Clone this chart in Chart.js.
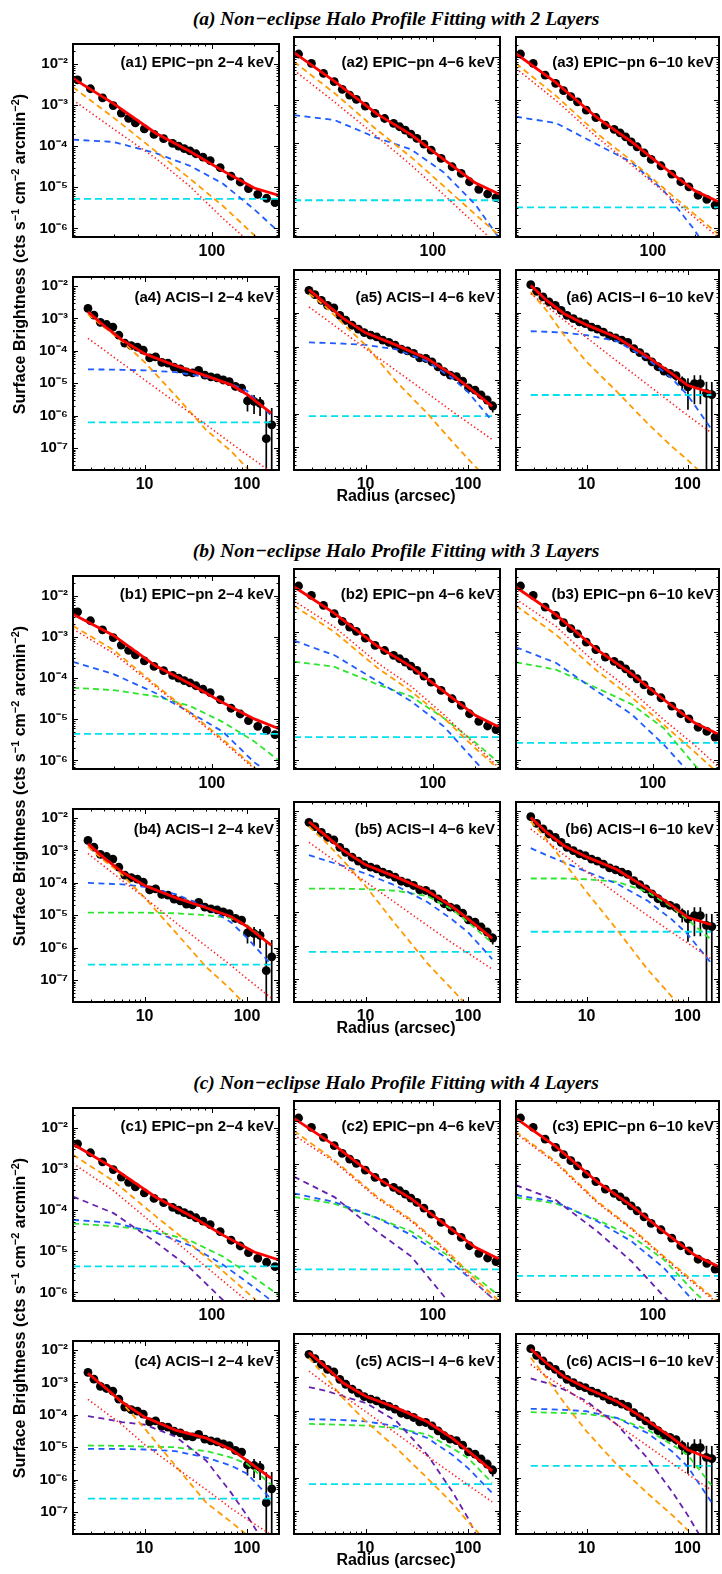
<!DOCTYPE html>
<html>
<head>
<meta charset="utf-8">
<title>Non-eclipse Halo Profile Fitting</title>
<script src="https://cdn.jsdelivr.net/npm/chart.js@4.4.1/dist/chart.umd.min.js"></script>
<style>
  html, body { margin: 0; padding: 0; background: #fff; }
  body { position: relative; width: 722px; height: 1574px; overflow: hidden; font-family: "Liberation Sans", Arial, sans-serif; color: #000; }
  canvas { position: absolute; }
  .sect { position: absolute; left: 46px; width: 700px; text-align: center; font: italic bold 19.5px "Liberation Serif", "Times New Roman", serif; line-height: 20px; }
  .xlab { position: absolute; left: 296px; width: 200px; text-align: center; font-weight: bold; font-size: 16px; line-height: 20px; }
  .ylab { position: absolute; left: -200px; width: 440px; height: 22px; line-height: 22px; text-align: center; font-weight: bold; font-size: 16px; transform: rotate(-90deg); white-space: nowrap; }
  .ylab sup { font-size: 11px; line-height: 0; vertical-align: 6px; }
  .plab { position: absolute; text-align: right; font-weight: bold; font-size: 15px; line-height: 14px; white-space: nowrap; }
</style>
</head>
<body>
<script>
// Radii of the profile bins (arcsec)
const EPIC_R = [11.1, 13.7, 16.7, 19.9, 22.7, 25.6, 28.6, 33.1, 38.8, 45.4, 52.6, 58, 63.6, 69.8, 77, 86.4, 97.3, 114.5, 137, 159, 182, 212, 245, 281];
const ACIS_R = [2.8, 3.2, 3.7, 4.25, 4.9, 5.6, 6.4, 7.4, 8.5, 9.7, 11.2, 12.8, 14.7, 16.9, 19.4, 22.3, 25.6, 29.4, 33.7, 38.7, 44.4, 51, 58.5, 67, 77, 88.5, 101, 117, 134, 154, 174];

// Measured surface brightness (cts s^-1 cm^-2 arcmin^-2)
const pn_2_4 = [4.06e-3, 2.46e-3, 1.48e-3, 9.6e-4, 6.3e-4, 4.7e-4, 3.65e-4, 2.6e-4, 1.91e-4, 1.51e-4, 1.16e-4, 1.0e-4, 8.7e-5, 7.6e-5, 6.5e-5, 5.4e-5, 4.45e-5, 3.0e-5, 1.85e-5, 1.34e-5, 9.3e-6, 6.75e-6, 5.4e-6, 4.25e-6];
const pn_4_6 = [1.2e-2, 7.2e-3, 4.2e-3, 2.69e-3, 1.78e-3, 1.31e-3, 1.04e-3, 7.2e-4, 4.9e-4, 3.7e-4, 2.84e-4, 2.37e-4, 1.98e-4, 1.6e-4, 1.26e-4, 9.3e-5, 6.7e-5, 4.3e-5, 2.74e-5, 1.91e-5, 1.22e-5, 8.1e-6, 6.3e-6, 5.2e-6];
const pn_6_10 = [1.2e-2, 7.2e-3, 3.85e-3, 2.46e-3, 1.66e-3, 1.2e-3, 9.1e-4, 5.8e-4, 3.9e-4, 2.6e-4, 2.05e-4, 1.71e-4, 1.38e-4, 1.05e-4, 8.05e-5, 5.8e-5, 4.07e-5, 2.89e-5, 1.84e-5, 1.22e-5, 9.3e-6, 5.9e-6, 4.7e-6, 3.46e-6];
const acis_2_4 = [2.03e-3, 1.26e-3, 7.6e-4, 6.5e-4, 5.4e-4, 3.05e-4, 1.73e-4, 1.44e-4, 1.31e-4, 1.05e-4, 6.05e-5, 6.5e-5, 4.4e-5, 4.2e-5, 3.13e-5, 2.79e-5, 2.22e-5, 2.1e-5, 2.49e-5, 1.77e-5, 1.58e-5, 1.47e-5, 1.26e-5, 1.12e-5, 8.0e-6, 7.1e-6, 2.85e-6, 2.73e-6, 2.38e-6, 1.94e-7, 5.2e-7];
const acis_4_6 = [4.7e-3, 3.5e-3, 2.38e-3, 1.69e-3, 1.41e-3, 8.5e-4, 6.05e-4, 4.3e-4, 3.3e-4, 2.6e-4, 2.17e-4, 1.94e-4, 1.54e-4, 1.32e-4, 1.1e-4, 8.3e-5, 7.4e-5, 6.2e-5, 4.6e-5, 4.4e-5, 3.5e-5, 2.49e-5, 1.77e-5, 1.41e-5, 1.26e-5, 9.3e-6, 5.9e-6, 5.0e-6, 3.6e-6, 2.55e-6, 1.69e-6];
const acis_6_10 = [6.95e-3, 4.4e-3, 3.0e-3, 2.12e-3, 1.69e-3, 1.2e-3, 8.5e-4, 6.8e-4, 5.4e-4, 4.8e-4, 3.8e-4, 3.3e-4, 2.7e-4, 2.07e-4, 1.81e-4, 1.54e-4, 1.32e-4, 8.7e-5, 6.6e-5, 4.9e-5, 3.5e-5, 2.5e-5, 1.85e-5, 1.58e-5, 1.35e-5, 8.9e-6, 6.3e-6, 7.9e-6, 7.9e-6, 4.0e-6, 3.7e-6];

// 1-sigma errors (only the outer ACIS-I bins are larger than the symbol)
const acis_2_4_err = [0, 0, 0, 0, 0, 0, 0, 0, 0, 0, 0, 0, 0, 0, 0, 0, 0, 0, 0, 0, 0, 0, 1.5e-6, 1.5e-6, 2e-6, 2e-6, 1.5e-6, 1.6e-6, 1.4e-6, 1.5e-6, 1.2e-6];
const acis_4_6_err = [0, 0, 0, 0, 0, 0, 0, 0, 0, 0, 0, 0, 0, 0, 0, 0, 0, 0, 0, 0, 0, 0, 0, 0, 0, 0, 0, 0, 5e-7, 6e-7, 6e-7];
const acis_6_10_err = [0, 0, 0, 0, 0, 0, 0, 0, 0, 0, 0, 0, 0, 0, 0, 0, 0, 0, 0, 0, 0, 0, 0, 3e-6, 4e-6, 4e-6, 5e-6, 6e-6, 6e-6, 5e-6, 5e-6];

// Radii where the model curves are sampled
const EPIC_K = [10.3, 20, 40, 70, 120, 200, 300];
const ACIS_K = [2.8, 4, 6, 10, 20, 40, 70, 100, 172];

// (a) 2 layers: total, PSF (dotted), layer components, background
const a1_tot = [4.38e-3, 1.07e-3, 2.05e-4, 7.4e-5, 2.5e-5, 9.6e-6, 6.3e-6];
const a1_dot = [1.31e-3, 2.6e-4, 5.0e-5, 1.04e-5, 1.74e-6, 3.7e-7, 1.0e-7];
const a1_org = [2.69e-3, 4.9e-4, 7.4e-5, 1.6e-5, 3.5e-6, 6.9e-7, 2.1e-7];
const a1_blu = [1.43e-4, 1.26e-4, 6.7e-5, 3.3e-5, 1.22e-5, 2.9e-6, 8.2e-7];
const a1_cyn = 5.2e-6;
const a2_tot = [1.29e-2, 2.75e-3, 4.75e-4, 1.55e-4, 4.05e-5, 1.15e-5, 6.1e-6];
const a2_dot = [5.0e-3, 9.0e-4, 1.4e-4, 3.0e-5, 6.0e-6, 1.25e-6, 3.5e-7];
const a2_org = [7.9e-3, 1.45e-3, 2.0e-4, 4.6e-5, 9.5e-6, 2.1e-6, 6.5e-7];
const a2_blu = [4.45e-4, 3.4e-4, 1.3e-4, 7.0e-5, 2.0e-5, 3.6e-6, 5.5e-7];
const a2_cyn = 4.5e-6;
const a3_tot = [1.22e-2, 2.55e-3, 3.75e-4, 1.06e-4, 2.65e-5, 7.6e-6, 4.1e-6];
const a3_dot = [5.5e-3, 9.8e-4, 1.3e-4, 3.05e-5, 7.1e-6, 1.78e-6, 5.9e-7];
const a3_org = [7.2e-3, 1.26e-3, 1.6e-4, 3.8e-5, 8.6e-6, 2.1e-6, 7.0e-7];
const a3_blu = [4.07e-4, 2.9e-4, 9e-5, 3.5e-5, 7.5e-6, 9e-7, 1.2e-7];
const a3_cyn = 3.05e-6;
const a4_tot = [1.6e-3, 6.05e-4, 2.17e-4, 8.1e-5, 3.5e-5, 1.69e-5, 8.9e-6, 4.5e-6, 1.2e-6];
const a4_dot = [2.43e-4, 1.07e-4, 4.2e-5, 1.27e-5, 2.6e-6, 5.2e-7, 1.4e-7, 6.2e-8, 1.8e-8];
const a4_org = [1.35e-3, 5.5e-4, 2.0e-4, 4.5e-5, 4.2e-6, 3.6e-7, 8e-8, 2.4e-8, 4e-9];
const a4_blu = [2.67e-5, 2.65e-5, 2.6e-5, 2.5e-5, 2.2e-5, 1.55e-5, 9.5e-6, 5.8e-6, 1.0e-6];
const a4_cyn = 6.2e-7;
const a5_tot = [4.9e-3, 2.0e-3, 7.0e-4, 2.55e-4, 1.1e-4, 4.3e-5, 1.45e-5, 6.3e-6, 1.65e-6];
const a5_dot = [1.5e-3, 6.85e-4, 2.73e-4, 8.7e-5, 1.89e-5, 4.1e-6, 1.17e-6, 5.4e-7, 1.7e-7];
const a5_org = [3.75e-3, 1.6e-3, 4.8e-4, 1.1e-4, 8.9e-6, 1.02e-6, 1.48e-7, 4.5e-8, 8e-9];
const a5_blu = [1.32e-4, 1.28e-4, 1.22e-4, 1.12e-4, 8.2e-5, 3.6e-5, 1.15e-5, 4.4e-6, 6e-7];
const a5_cyn = 8.5e-7;
const a6_tot = [6.6e-3, 2.4e-3, 9.5e-4, 4.4e-4, 1.85e-4, 5.0e-5, 1.55e-5, 7.0e-6, 4.2e-6];
const a6_dot = [3.75e-3, 1.65e-3, 6.05e-4, 1.85e-4, 3.66e-5, 7.4e-6, 2.03e-6, 8.9e-7, 2.7e-7];
const a6_org = [4.2e-3, 1.2e-3, 2.17e-4, 3.5e-5, 4.5e-6, 5.2e-7, 1.05e-7, 4.2e-8, 9e-9];
const a6_blu = [2.85e-4, 2.75e-4, 2.6e-4, 2.17e-4, 1.45e-4, 4.3e-5, 1.12e-5, 3.6e-6, 3.5e-7];
const a6_cyn = 3.6e-6;

// (b) 3 layers
const b1_tot = [3.53e-3, 1.08e-3, 1.96e-4, 7.3e-5, 2.5e-5, 1.02e-5, 5.9e-6];
const b1_dot = [1.55e-3, 4.0e-4, 6.1e-5, 1.33e-5, 2.9e-6, 6.3e-7, 1.64e-7];
const b1_org = [1.85e-3, 4.8e-4, 6.7e-5, 1.46e-5, 3.2e-6, 6.9e-7, 1.8e-7];
const b1_blu = [2.48e-4, 1.25e-4, 4.27e-5, 1.46e-5, 4.96e-6, 9e-7, 3.4e-7];
const b1_grn = [5.8e-5, 5.1e-5, 3.6e-5, 2.1e-5, 8.5e-6, 2.9e-6, 9.9e-7];
const b1_cyn = 4.4e-6;
const b2_tot = [1.15e-2, 2.75e-3, 4.75e-4, 1.55e-4, 4.05e-5, 1.12e-5, 5.8e-6];
const b2_dot = [5.4e-3, 1.31e-3, 1.94e-4, 5.4e-5, 1.15e-5, 2.3e-6, 6.3e-7];
const b2_org = [4.15e-3, 1.0e-3, 1.48e-4, 4.1e-5, 9.6e-6, 1.9e-6, 5.75e-7];
const b2_blu = [6.3e-4, 2.86e-4, 7.2e-5, 2.4e-5, 6.1e-6, 9.4e-7, 2.3e-7];
const b2_grn = [2.04e-4, 1.53e-4, 6.0e-5, 3.1e-5, 9.6e-6, 2.6e-6, 8.2e-7];
const b2_cyn = 3.47e-6;
const b3_tot = [1.12e-2, 2.55e-3, 3.75e-4, 1.06e-4, 2.6e-5, 7.5e-6, 4.0e-6];
const b3_dot = [5.9e-3, 1.36e-3, 1.7e-4, 4.2e-5, 8.8e-6, 2.25e-6, 6.8e-7];
const b3_org = [4.15e-3, 8.7e-4, 1.19e-4, 3.0e-5, 6.7e-6, 1.56e-6, 4.7e-7];
const b3_blu = [4.4e-4, 1.9e-4, 4.0e-5, 1.2e-5, 2.3e-6, 3.7e-7, 1.05e-7];
const b3_grn = [1.96e-4, 1.32e-4, 4.8e-5, 2.05e-5, 5.6e-6, 7.7e-7, 2.1e-7];
const b3_cyn = 2.55e-6;
const b4_tot = [1.6e-3, 6.0e-4, 2.2e-4, 8.3e-5, 3.5e-5, 1.7e-5, 9e-6, 4.5e-6, 1.2e-6];
const b4_dot = [8e-4, 3.3e-4, 1.2e-4, 3.5e-5, 6e-6, 1.1e-6, 2.8e-7, 1.1e-7, 2.8e-8];
const b4_org = [1.3e-3, 5e-4, 1.8e-4, 3.5e-5, 3e-6, 2.5e-7, 5e-8, 1.5e-8, 3e-9];
const b4_blu = [1.0e-4, 9.5e-5, 9e-5, 7.5e-5, 4.5e-5, 1.8e-5, 6e-6, 2e-6, 3e-7];
const b4_grn = [1.2e-5, 1.2e-5, 1.2e-5, 1.2e-5, 1.15e-5, 1.0e-5, 8e-6, 5e-6, 1.2e-6];
const b4_cyn = 3e-7;
const b5_tot = [4.9e-3, 2.0e-3, 7.0e-4, 2.55e-4, 1.1e-4, 4.3e-5, 1.45e-5, 6.3e-6, 1.65e-6];
const b5_dot = [1.2e-3, 5.5e-4, 2.3e-4, 8e-5, 1.8e-5, 4e-6, 1.2e-6, 6e-7, 2e-7];
const b5_org = [3.5e-3, 1.3e-3, 3.5e-4, 6e-5, 4e-6, 3e-7, 5e-8, 1.5e-8, 3e-9];
const b5_blu = [5e-4, 3.5e-4, 2.4e-4, 1.4e-4, 6e-5, 2e-5, 6e-6, 2.5e-6, 4e-7];
const b5_grn = [5e-5, 5e-5, 5e-5, 4.8e-5, 4.3e-5, 3e-5, 1.2e-5, 5e-6, 1.2e-6];
const b5_cyn = 6.5e-7;
const b6_tot = [6.6e-3, 2.4e-3, 9.5e-4, 4.4e-4, 1.85e-4, 5.0e-5, 1.55e-5, 7.0e-6, 4.2e-6];
const b6_dot = [3e-3, 1.3e-3, 5e-4, 1.6e-4, 3.5e-5, 8e-6, 2.5e-6, 1.2e-6, 4e-7];
const b6_org = [5e-3, 1.5e-3, 3e-4, 4e-5, 3e-6, 2e-7, 3e-8, 1e-8, 2e-9];
const b6_blu = [8e-4, 5e-4, 3e-4, 1.6e-4, 7e-5, 2.2e-5, 6e-6, 2.2e-6, 3e-7];
const b6_grn = [1e-4, 1e-4, 1e-4, 9.5e-5, 8e-5, 4e-5, 1.4e-5, 6e-6, 1.5e-6];
const b6_cyn = 2.6e-6;

// (c) 4 layers
const c1_tot = [4.0e-3, 1.04e-3, 2.05e-4, 7.4e-5, 2.46e-5, 9.6e-6, 6.15e-6];
const c1_dot = [1.36e-3, 2.94e-4, 4.07e-5, 8.8e-6, 1.9e-6, 4.5e-7, 1.2e-7];
const c1_org = [2.2e-3, 5.05e-4, 7.0e-5, 1.51e-5, 3.28e-6, 7.1e-7, 1.85e-7];
const c1_pur = [2.13e-4, 8.4e-5, 1.66e-5, 3.9e-6, 6.5e-7, 1e-7, 3e-8];
const c1_blu = [5.8e-5, 4.9e-5, 2.84e-5, 1.38e-5, 4.7e-6, 1.33e-6, 4.5e-7];
const c1_grn = [4.7e-5, 4.07e-5, 3.1e-5, 1.81e-5, 7.4e-6, 2.3e-6, 8.5e-7];
const c1_cyn = 4.3e-6;
const c2_tot = [1.18e-2, 2.75e-3, 4.75e-4, 1.55e-4, 4.05e-5, 1.12e-5, 5.8e-6];
const c2_dot = [4.8e-3, 1.12e-3, 1.6e-4, 4.6e-5, 1.0e-5, 1.65e-6, 5e-7];
const c2_org = [6.0e-3, 1.22e-3, 1.75e-4, 5.0e-5, 1.09e-5, 2.0e-6, 6e-7];
const c2_pur = [5.05e-4, 1.68e-4, 2.65e-5, 6.9e-6, 8e-7, 1.3e-7, 4.6e-8];
const c2_blu = [2.05e-4, 1.29e-4, 5.5e-5, 2.2e-5, 6.9e-6, 1.65e-6, 5e-7];
const c2_grn = [1.71e-4, 1.17e-4, 5.5e-5, 2.65e-5, 8.3e-6, 2.35e-6, 7.8e-7];
const c2_cyn = 3.4e-6;
const c3_tot = [1.18e-2, 2.55e-3, 3.75e-4, 1.06e-4, 2.6e-5, 7.4e-6, 3.9e-6];
const c3_dot = [5.2e-3, 1.04e-3, 1.22e-4, 3.0e-5, 6.4e-6, 1.55e-6, 5.1e-7];
const c3_org = [5.7e-3, 1.13e-3, 1.31e-4, 3.2e-5, 6.9e-6, 1.7e-6, 5.6e-7];
const c3_pur = [3.2e-4, 1.43e-4, 2.6e-5, 5.3e-6, 8e-7, 1.4e-7, 4e-8];
const c3_blu = [1.88e-4, 1.3e-4, 4.5e-5, 1.56e-5, 3.7e-6, 5.8e-7, 1.4e-7];
const c3_grn = [1.65e-4, 1.19e-4, 4.9e-5, 2.05e-5, 5.8e-6, 1.0e-6, 3.0e-7];
const c3_cyn = 2.4e-6;
const c4_tot = [1.9e-3, 7.5e-4, 2.5e-4, 8.5e-5, 3.39e-5, 1.91e-5, 8.6e-6, 3.84e-6, 1.1e-6];
const c4_dot = [3.0e-4, 1.3e-4, 5e-5, 1.21e-5, 2.4e-6, 4.9e-7, 1.3e-7, 6e-8, 2e-8];
const c4_org = [1.87e-3, 7.5e-4, 2.38e-4, 3.8e-5, 2.7e-6, 1.94e-7, 4.9e-8, 1.96e-8, 3e-9];
const c4_pur = [9.1e-5, 7.6e-5, 6.0e-5, 5.0e-5, 2.14e-5, 3.84e-6, 3.9e-7, 7.8e-8, 5e-9];
const c4_blu = [8.95e-6, 8.9e-6, 8.8e-6, 8.5e-6, 7.6e-6, 4.8e-6, 2.7e-6, 1.53e-6, 2.5e-7];
const c4_grn = [1.13e-5, 1.12e-5, 1.1e-5, 1.05e-5, 1.0e-5, 7.6e-6, 4.8e-6, 3.05e-6, 7e-7];
const c4_cyn = 2.6e-7;
const c5_tot = [5.3e-3, 2.1e-3, 6.7e-4, 2.67e-4, 1.2e-4, 4.6e-5, 1.5e-5, 6.3e-6, 1.6e-6];
const c5_dot = [1.49e-3, 6.5e-4, 2.8e-4, 9.3e-5, 2.05e-5, 4.4e-6, 1.3e-6, 6e-7, 1.9e-7];
const c5_org = [3.73e-3, 1.06e-3, 2.38e-4, 4.78e-5, 7.6e-6, 9.7e-7, 1.73e-7, 4.9e-8, 8e-9];
const c5_pur = [4.95e-4, 3.94e-4, 2.67e-4, 1.69e-4, 4.78e-5, 4.8e-6, 3.9e-7, 6.2e-8, 2e-9];
const c5_blu = [5.5e-5, 5.4e-5, 5.2e-5, 4.78e-5, 3.39e-5, 1.52e-5, 4.8e-6, 1.93e-6, 3.5e-7];
const c5_grn = [3.98e-5, 3.9e-5, 3.75e-5, 3.55e-5, 3.02e-5, 1.91e-5, 7.6e-6, 3.84e-6, 7e-7];
const c5_cyn = 6.4e-7;
const c6_tot = [6.8e-3, 2.6e-3, 1.0e-3, 4.6e-4, 1.85e-4, 5.0e-5, 1.55e-5, 6.8e-6, 3.6e-6];
const c6_dot = [2.36e-3, 1.05e-3, 4.7e-4, 1.61e-4, 3.8e-5, 8.95e-6, 2.7e-6, 1.28e-6, 4.3e-7];
const c6_org = [3.73e-3, 9.4e-4, 1.69e-4, 2.4e-5, 2.42e-6, 3.45e-7, 7.8e-8, 2.77e-8, 5e-9];
const c6_pur = [9.0e-4, 6.7e-4, 4.2e-4, 1.89e-4, 3.8e-5, 3.84e-6, 3.9e-7, 7.8e-8, 5e-9];
const c6_blu = [1.12e-4, 1.1e-4, 1.05e-4, 9.5e-5, 6.0e-5, 2.14e-5, 6.1e-6, 2.16e-6, 1.9e-7];
const c6_grn = [8.9e-5, 8.7e-5, 8.4e-5, 7.9e-5, 6.0e-5, 2.69e-5, 9.6e-6, 4.8e-6, 6e-7];
const c6_cyn = 2.26e-6;

// Tick labels and axis ranges
const Y_TICKS = [1e-7, 1e-6, 1e-5, 1e-4, 1e-3, 1e-2];
const X_TICKS = [10, 100];
const EPIC_X = [10.3, 300];
const ACIS_X = [2, 205];
const TOP_Y = [6.2e-7, 3.0e-2];
const BOT_Y = [2.1e-8, 1.9e-2];

const SECT_TITLES = [
    '(a) Non\u2212eclipse Halo Profile Fitting with 2 Layers',
    '(b) Non\u2212eclipse Halo Profile Fitting with 3 Layers',
    '(c) Non\u2212eclipse Halo Profile Fitting with 4 Layers'
];

// name, section, row, column, label, radii, data, errors, components, background
const PANELS = [
    ['a1', 0, 0, 0, '(a1) EPIC\u2212pn 2\u22124 keV', EPIC_R, pn_2_4, null, { tot: a1_tot, dot: a1_dot, org: a1_org, blu: a1_blu }, a1_cyn],
    ['a2', 0, 0, 1, '(a2) EPIC\u2212pn 4\u22126 keV', EPIC_R, pn_4_6, null, { tot: a2_tot, dot: a2_dot, org: a2_org, blu: a2_blu }, a2_cyn],
    ['a3', 0, 0, 2, '(a3) EPIC\u2212pn 6\u221210 keV', EPIC_R, pn_6_10, null, { tot: a3_tot, dot: a3_dot, org: a3_org, blu: a3_blu }, a3_cyn],
    ['a4', 0, 1, 0, '(a4) ACIS\u2212I 2\u22124 keV', ACIS_R, acis_2_4, acis_2_4_err, { tot: a4_tot, dot: a4_dot, org: a4_org, blu: a4_blu }, a4_cyn],
    ['a5', 0, 1, 1, '(a5) ACIS\u2212I 4\u22126 keV', ACIS_R, acis_4_6, acis_4_6_err, { tot: a5_tot, dot: a5_dot, org: a5_org, blu: a5_blu }, a5_cyn],
    ['a6', 0, 1, 2, '(a6) ACIS\u2212I 6\u221210 keV', ACIS_R, acis_6_10, acis_6_10_err, { tot: a6_tot, dot: a6_dot, org: a6_org, blu: a6_blu }, a6_cyn],
    ['b1', 1, 0, 0, '(b1) EPIC\u2212pn 2\u22124 keV', EPIC_R, pn_2_4, null, { tot: b1_tot, dot: b1_dot, org: b1_org, blu: b1_blu, grn: b1_grn }, b1_cyn],
    ['b2', 1, 0, 1, '(b2) EPIC\u2212pn 4\u22126 keV', EPIC_R, pn_4_6, null, { tot: b2_tot, dot: b2_dot, org: b2_org, blu: b2_blu, grn: b2_grn }, b2_cyn],
    ['b3', 1, 0, 2, '(b3) EPIC\u2212pn 6\u221210 keV', EPIC_R, pn_6_10, null, { tot: b3_tot, dot: b3_dot, org: b3_org, blu: b3_blu, grn: b3_grn }, b3_cyn],
    ['b4', 1, 1, 0, '(b4) ACIS\u2212I 2\u22124 keV', ACIS_R, acis_2_4, acis_2_4_err, { tot: b4_tot, dot: b4_dot, org: b4_org, blu: b4_blu, grn: b4_grn }, b4_cyn],
    ['b5', 1, 1, 1, '(b5) ACIS\u2212I 4\u22126 keV', ACIS_R, acis_4_6, acis_4_6_err, { tot: b5_tot, dot: b5_dot, org: b5_org, blu: b5_blu, grn: b5_grn }, b5_cyn],
    ['b6', 1, 1, 2, '(b6) ACIS\u2212I 6\u221210 keV', ACIS_R, acis_6_10, acis_6_10_err, { tot: b6_tot, dot: b6_dot, org: b6_org, blu: b6_blu, grn: b6_grn }, b6_cyn],
    ['c1', 2, 0, 0, '(c1) EPIC\u2212pn 2\u22124 keV', EPIC_R, pn_2_4, null, { tot: c1_tot, dot: c1_dot, org: c1_org, pur: c1_pur, blu: c1_blu, grn: c1_grn }, c1_cyn],
    ['c2', 2, 0, 1, '(c2) EPIC\u2212pn 4\u22126 keV', EPIC_R, pn_4_6, null, { tot: c2_tot, dot: c2_dot, org: c2_org, pur: c2_pur, blu: c2_blu, grn: c2_grn }, c2_cyn],
    ['c3', 2, 0, 2, '(c3) EPIC\u2212pn 6\u221210 keV', EPIC_R, pn_6_10, null, { tot: c3_tot, dot: c3_dot, org: c3_org, pur: c3_pur, blu: c3_blu, grn: c3_grn }, c3_cyn],
    ['c4', 2, 1, 0, '(c4) ACIS\u2212I 2\u22124 keV', ACIS_R, acis_2_4, acis_2_4_err, { tot: c4_tot, dot: c4_dot, org: c4_org, pur: c4_pur, blu: c4_blu, grn: c4_grn }, c4_cyn],
    ['c5', 2, 1, 1, '(c5) ACIS\u2212I 4\u22126 keV', ACIS_R, acis_4_6, acis_4_6_err, { tot: c5_tot, dot: c5_dot, org: c5_org, pur: c5_pur, blu: c5_blu, grn: c5_grn }, c5_cyn],
    ['c6', 2, 1, 2, '(c6) ACIS\u2212I 6\u221210 keV', ACIS_R, acis_6_10, acis_6_10_err, { tot: c6_tot, dot: c6_dot, org: c6_org, pur: c6_pur, blu: c6_blu, grn: c6_grn }, c6_cyn]
];

// Line styles of the model components (lower order = drawn on top)
const STYLE = {
    tot: { color: '#ff0000', width: 2.8, dash: [], order: 0 },
    dot: { color: '#ff2020', width: 1.6, dash: [1.4, 2.6], order: 1 },
    org: { color: '#ff9a00', width: 1.8, dash: [6, 4], order: 2 },
    pur: { color: '#6420b0', width: 1.8, dash: [6, 4.5], order: 3 },
    blu: { color: '#1f5cff', width: 1.8, dash: [6, 4.5], order: 3 },
    grn: { color: '#2ee52e', width: 1.8, dash: [6, 4], order: 3 },
    cyn: { color: '#00e0ee', width: 1.8, dash: [7, 4], order: 4 }
};

// Page layout of the plot boxes
const COL_X = [73, 294, 516];
const COL_W = [206, 206, 203];
const ROW_TOP = [37, 270];
const ROW_H = 200;
const SECT_DY = 532;
const PAD = 7;
const XH = 26;

Chart.defaults.font.family = '"Liberation Sans", Arial, sans-serif';

const SUP = { '-': '\u207b', '0': '\u2070', '1': '\u00b9', '2': '\u00b2', '3': '\u00b3', '4': '\u2074', '5': '\u2075', '6': '\u2076', '7': '\u2077', '8': '\u2078', '9': '\u2079' };
function powLabel(v) {
    const e = String(Math.round(Math.log10(v)));
    return '10' + e.split('').map(c => SUP[c]).join('');
}

// decade and 2..9 positions for the inward axis ticks
function logTicks(min, max) {
    const out = [];
    for (let e = Math.floor(Math.log10(min)); e <= Math.ceil(Math.log10(max)); e++) {
        for (let m = 1; m <= 9; m++) {
            const v = m * Math.pow(10, e);
            if (v >= min && v <= max) out.push([v, m === 1]);
        }
    }
    return out;
}

const errorBars = {
    id: 'errorBars',
    beforeDatasetsDraw(chart) {
        const { ctx, chartArea: a, scales: { x, y } } = chart;
        chart.data.datasets.forEach(ds => {
            if (!ds.errors) return;
            ctx.save();
            ctx.beginPath();
            ctx.rect(a.left, a.top, a.width, a.height);
            ctx.clip();
            ctx.strokeStyle = '#000';
            ctx.lineWidth = 1.7;
            ctx.beginPath();
            ds.data.forEach((p, i) => {
                const e = ds.errors[i];
                if (!e) return;
                const px = x.getPixelForValue(p.x);
                const lo = p.y - e > 0 ? y.getPixelForValue(p.y - e) : a.bottom;
                const hi = y.getPixelForValue(p.y + e);
                ctx.moveTo(px, lo);
                ctx.lineTo(px, hi);
            });
            ctx.stroke();
            ctx.restore();
        });
    }
};

const axisFrame = {
    id: 'axisFrame',
    afterDatasetsDraw(chart) {
        const { ctx, chartArea: a, scales: { x, y } } = chart;
        ctx.save();
        ctx.strokeStyle = '#000';
        ctx.lineWidth = 1;
        ctx.beginPath();
        logTicks(x.min, x.max).forEach(([v, major]) => {
            const px = Math.round(x.getPixelForValue(v)) + 0.5;
            const len = major ? 5 : 2.5;
            ctx.moveTo(px, a.bottom);
            ctx.lineTo(px, a.bottom - len);
            ctx.moveTo(px, a.top);
            ctx.lineTo(px, a.top + len);
        });
        logTicks(y.min, y.max).forEach(([v, major]) => {
            const py = Math.round(y.getPixelForValue(v)) + 0.5;
            const len = major ? 5 : 2.5;
            ctx.moveTo(a.left, py);
            ctx.lineTo(a.left + len, py);
            ctx.moveTo(a.right, py);
            ctx.lineTo(a.right - len, py);
        });
        ctx.stroke();
        ctx.lineWidth = 2;
        ctx.strokeRect(a.left, a.top, a.width, a.height);
        ctx.restore();
    }
};

function curve(K, vals, key) {
    const s = STYLE[key];
    return {
        data: K.map((x, i) => ({ x, y: vals[i] })),
        showLine: true,
        pointRadius: 0,
        borderColor: s.color,
        borderWidth: s.width,
        borderDash: s.dash,
        order: s.order,
        fill: false
    };
}

function addDiv(cls, html, css) {
    const d = document.createElement('div');
    d.className = cls;
    d.innerHTML = html;
    Object.assign(d.style, css);
    document.body.appendChild(d);
    return d;
}

function buildPanel(p) {
    const [name, sect, row, col, label, R, Y, E, comps, cyn] = p;
    const rx = COL_X[col], rw = COL_W[col];
    const ry = ROW_TOP[row] + SECT_DY * sect, rh = ROW_H;
    const yw = col === 0 ? 70 : 0;
    const isEpic = R === EPIC_R;
    const K = isEpic ? EPIC_K : ACIS_K;
    const xr = isEpic ? EPIC_X : ACIS_X;
    const yr = row === 0 ? TOP_Y : BOT_Y;

    const cv = document.createElement('canvas');
    cv.id = 'panel-' + name;
    cv.width = PAD + yw + rw + PAD;
    cv.height = PAD + rh + XH + 2;
    cv.style.left = (rx - PAD - yw) + 'px';
    cv.style.top = (ry - PAD) + 'px';
    cv.style.width = cv.width + 'px';
    cv.style.height = cv.height + 'px';
    document.body.appendChild(cv);

    const datasets = [];
    Object.keys(comps).forEach(k => datasets.push(curve(K, comps[k], k)));
    datasets.push({
        data: [{ x: K[0], y: cyn }, { x: K[K.length - 1], y: cyn }],
        showLine: true, pointRadius: 0,
        borderColor: STYLE.cyn.color, borderWidth: STYLE.cyn.width, borderDash: STYLE.cyn.dash,
        order: STYLE.cyn.order
    });
    datasets.push({
        data: R.map((x, i) => ({ x, y: Y[i] })),
        errors: E,
        showLine: false,
        pointRadius: 4.4,
        pointBackgroundColor: '#000',
        pointBorderWidth: 0,
        order: 5,
        clip: 6
    });

    new Chart(cv, {
        type: 'scatter',
        data: { datasets },
        options: {
            responsive: false,
            animation: false,
            devicePixelRatio: 1,
            events: [],
            layout: { padding: { left: PAD, right: PAD, top: PAD, bottom: 2 } },
            plugins: { legend: { display: false }, tooltip: { enabled: false } },
            scales: {
                x: {
                    type: 'logarithmic',
                    min: xr[0], max: xr[1],
                    grid: { display: false, drawTicks: false },
                    border: { display: false },
                    ticks: {
                        color: '#000', padding: 5, autoSkip: false, maxRotation: 0,
                        font: { size: 16, weight: 'bold' },
                        callback: v => String(v)
                    },
                    afterBuildTicks: s => { s.ticks = X_TICKS.filter(v => v >= s.min && v <= s.max).map(v => ({ value: v })); },
                    afterFit: s => { s.height = XH; }
                },
                y: {
                    type: 'logarithmic',
                    display: col === 0,
                    min: yr[0], max: yr[1],
                    grid: { display: false, drawTicks: false },
                    border: { display: false },
                    ticks: {
                        color: '#000', padding: 5, autoSkip: false,
                        font: { size: 15, weight: 'bold' },
                        callback: v => powLabel(v)
                    },
                    afterBuildTicks: s => { s.ticks = Y_TICKS.filter(v => v >= s.min && v <= s.max).map(v => ({ value: v })); },
                    afterFit: s => { s.width = yw; }
                }
            }
        },
        plugins: [errorBars, axisFrame]
    });

    addDiv('plab', label, {
        left: rx + 'px',
        width: (rw - 5) + 'px',
        top: (ry + (row === 0 ? 18 : 20)) + 'px'
    });
}

PANELS.forEach(buildPanel);

SECT_TITLES.forEach((t, s) => {
    addDiv('sect', t, { top: (9 + SECT_DY * s) + 'px' });
    addDiv('xlab', 'Radius (arcsec)', { top: (486 + SECT_DY * s) + 'px' });
    addDiv('ylab', 'Surface Brightness (cts s<sup>\u22121</sup> cm<sup>\u22122</sup> arcmin<sup>\u22122</sup>)',
        { top: (242.5 + SECT_DY * s) + 'px' });
});
</script>
</body>
</html>
